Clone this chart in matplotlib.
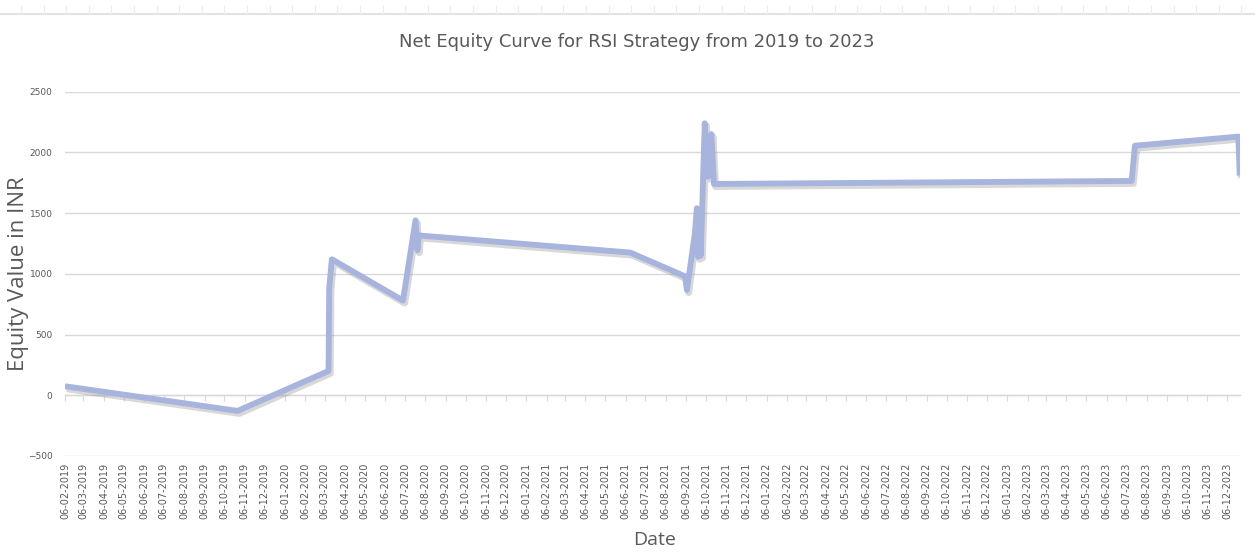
import pandas as pd
import numpy as np
import matplotlib
matplotlib.use("Agg")
import matplotlib.pyplot as plt
import matplotlib.dates as mdates
import matplotlib.patheffects as pe
from matplotlib.lines import Line2D

# trade dates (dd-mm-yyyy) and net equity after each trade
dates = ["06-02-2019", "26-10-2019", "12-03-2020", "13-03-2020", "17-03-2020",
         "03-07-2020", "22-07-2020", "25-07-2020", "27-07-2020", "13-06-2021",
         "04-09-2021", "07-09-2021", "19-09-2021", "22-09-2021", "24-09-2021",
         "26-09-2021", "28-09-2021", "04-10-2021", "09-10-2021", "14-10-2021",
         "18-10-2021", "14-07-2023", "19-07-2023", "23-12-2023", "25-12-2023"]
equity = [74, -129, 200, 880, 1120,
          780, 1440, 1195, 1316, 1175,
          980, 866, 1330, 1540, 1140,
          1250, 1150, 2240, 1800, 2150,
          1740, 1765, 2055, 2130, 1810]

tick_start = "06-02-2019"
tick_end = "06-12-2023"
y_ticks = [-500, 0, 500, 1000, 1500, 2000, 2500]

title = "Net Equity Curve for RSI Strategy from 2019 to 2023"
xlabel = "Date"
ylabel = "Equity Value in INR"

grey = "#595959"
line_color = "#a6b4de"

x = pd.to_datetime(dates, format="%d-%m-%Y")
ticks = pd.date_range(pd.to_datetime(tick_start, format="%d-%m-%Y"),
                      pd.to_datetime(tick_end, format="%d-%m-%Y"),
                      freq=pd.DateOffset(months=1))

fig = plt.figure(figsize=(12.55, 5.54), dpi=100)
ax = fig.add_axes([0.0518, 0.177, 0.936, 0.6575])

ax.plot(x, equity, color=line_color, linewidth=4.2, solid_joinstyle="round",
        solid_capstyle="butt",
        path_effects=[pe.SimpleLineShadow(offset=(1.2, -1.8), shadow_color="#808080",
                                          alpha=0.3, linewidth=5),
                      pe.Normal()])

ax.set_xlim(x[0], x[-1])
ax.set_ylim(y_ticks[0], y_ticks[-1])
ax.set_yticks(y_ticks)
ax.set_xticks(ticks)
ax.xaxis.set_major_formatter(mdates.DateFormatter("%d-%m-%Y"))
ax.tick_params(axis="x", length=0, labelrotation=90, labelsize=7,
               labelcolor=grey, pad=5)
ax.tick_params(axis="y", length=0, labelsize=6.5, labelcolor=grey, pad=9)
ax.grid(axis="y", color="#d9d9d9", linewidth=1)
ax.set_axisbelow(True)
for s in ax.spines.values():
    s.set_visible(False)

# horizontal axis line at zero with month tick marks
sec = ax.secondary_xaxis(1 / 6)
sec.set_xticks(ticks)
sec.set_xticklabels([])
sec.tick_params(axis="x", direction="out", length=4, color="#d9d9d9")
sec.spines["bottom"].set_color("#d9d9d9")
sec.spines["bottom"].set_linewidth(1)

ax.set_ylabel(ylabel, fontsize=16, color=grey, family=["Open Sans", "DejaVu Sans"])
ax.yaxis.set_label_coords(-0.031, 0.5)
ax.set_xlabel(xlabel, fontsize=14, color=grey, family=["Open Sans", "DejaVu Sans"])
ax.xaxis.set_label_coords(0.502, -0.205)

fig.text(0.507, 0.924, title, ha="center", va="center", fontsize=13, color=grey,
         fontweight="medium", family=["DejaVu Sans"])

# faint sheet border at the top
fig.add_artist(Line2D([0, 1], [0.975, 0.975], transform=fig.transFigure,
                      color="#e3e3e3", linewidth=1.5))
for tx in np.arange(21, 1255, 22.6) / 1255:
    fig.add_artist(Line2D([tx, tx], [0.975, 0.99], transform=fig.transFigure,
                          color="#ececec", linewidth=0.8))

fig.savefig("out.png", dpi=100)
